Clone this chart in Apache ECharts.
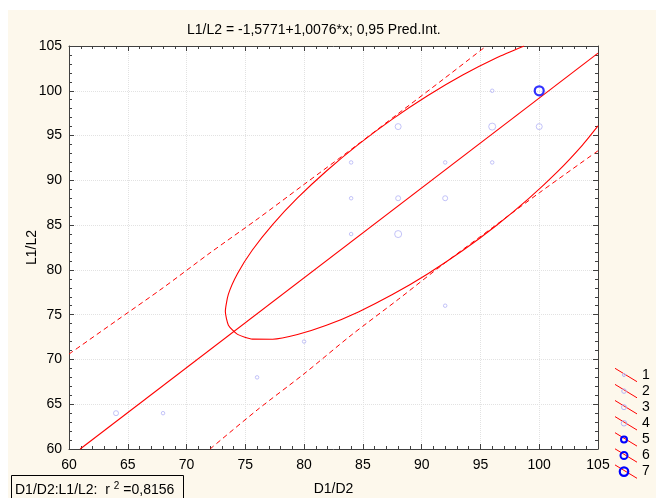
<!DOCTYPE html>
<html><head><meta charset="utf-8">
<script src="https://cdn.jsdelivr.net/npm/echarts@6/dist/echarts.min.js"></script>
<style>
html,body{margin:0;padding:0;background:#fff;}
#bg{position:absolute;left:8px;top:10px;width:648px;height:488px;background:#fdf8ec;}
#chart{position:absolute;left:0;top:0;width:656px;height:498px;}
</style></head><body>
<div id="bg"></div><div id="chart"></div>
<script>
// ---- data ----
const titleText = 'L1/L2 = -1,5771+1,0076*x; 0,95 Pred.Int.';
const xName = 'D1/D2';
const yName = 'L1/L2';
const xTicks = [60, 65, 70, 75, 80, 85, 90, 95, 100, 105];
const yTicks = [60, 65, 70, 75, 80, 85, 90, 95, 100, 105];
const groupNames = ['1', '2', '3', '4', '5', '6', '7'];
const group1 = [[68,64],[76,68],[80,72],[84,92],[84,88],[84,84],[92,92],[92,76],[96,100],[96,92]];
const group2 = [[64,64],[88,88],[92,88]];
const group3 = [[88,96],[100,96]];
const group4 = [[96,96],[88,84]];
const group5 = [];
const group6 = [];
const group7 = [[100,100]];
const regressionLine = [[60.95,60],[105,104.2]];
const predUpper = [[60,70.6],[64,74.3],[68,78.0],[72,81.9],[76,85.65],[80,89.55],[84,93.45],[88,97.45],[92,101.45],[95.5,105]];
const predLower = [[72,60],[76,64.35],[80,68.4],[84,72.7],[88,76.7],[92,80.8],[96,84.7],[100,88.6],[105,93.3]];
const ellipseArc = [[98.71,105.0],[96.38,103.69],[93.49,101.76],[90.5,99.45],[87.51,96.84],[84.62,94.01],
  [81.9,91.04],[79.44,88.03],[77.32,85.06],[75.6,82.22],[74.34,79.6],[73.56,77.29],[73.3,75.35],[73.56,73.83],
  [74.34,72.8],[75.6,72.27],[77.32,72.26],[79.44,72.78],[81.9,73.81],[84.62,75.31],[87.51,77.24],[90.5,79.55],
  [93.49,82.16],[96.38,84.99],[99.1,87.96],[101.56,90.97],[103.68,93.94],[105.0,96.08]];
const r2Label = 'D1/D2:L1/L2:  r ';
const r2Sup = '2';
const r2Value = ' =0,8156';

// ---- styling / building ----
const FONT = 'Liberation Sans, Arial, sans-serif';
const groups = [group1, group2, group3, group4, group5, group6, group7];
const light = '#b4b4f6', blue = '#0000ff';
const markerStyle = [
  {size:3.5, color:light, bw:1},
  {size:5, color:light, bw:1},
  {size:6, color:light, bw:1},
  {size:7, color:light, bw:1},
  {size:7, color:blue, bw:2},
  {size:8, color:blue, bw:2},
  {size:9, color:blue, bw:2.2}
];
const legendSize = [3, 4.5, 5, 5.5, 6, 7, 8.5];
const axisColor = '#404040';
const gridColor = '#e2e2e2';

function makeXAxis(pos, main) {
  return {
    type:'value', position:pos, min:xTicks[0], max:xTicks[xTicks.length-1], interval:xTicks[1]-xTicks[0],
    name: main ? xName : '', nameLocation:'middle', nameGap:33, nameMoveOverlap:false,
    nameTextStyle:{fontSize:14, color:'#000', fontFamily:FONT},
    axisLine:{show:true, onZero:false, lineStyle:{color:axisColor, width:1}},
    axisTick:{show:true, inside:true, length:5, lineStyle:{color:axisColor}},
    minorTick:{show:true, splitNumber:5, length:3, lineStyle:{color:axisColor}},
    splitLine:{show:main, lineStyle:{color:gridColor, type:'dotted', width:1}},
    axisLabel:{show:main, fontSize:14, color:'#000', margin:9, fontFamily:FONT, showMinLabel:true, showMaxLabel:true}
  };
}
function makeYAxis(pos, main) {
  return {
    type:'value', position:pos, min:yTicks[0], max:yTicks[yTicks.length-1], interval:yTicks[1]-yTicks[0],
    name: main ? yName : '', nameLocation:'middle', nameGap:30, nameRotate:90, nameMoveOverlap:false,
    nameTextStyle:{fontSize:14, color:'#000', fontFamily:FONT},
    axisLine:{show:true, onZero:false, lineStyle:{color:axisColor, width:1}},
    axisTick:{show:true, inside:true, length:5, lineStyle:{color:axisColor}},
    minorTick:{show:true, splitNumber:5, length:3, lineStyle:{color:axisColor}},
    splitLine:{show:main, lineStyle:{color:gridColor, type:'dotted', width:1}},
    axisLabel:{show:main, fontSize:14, color:'#000', margin:7, fontFamily:FONT, showMinLabel:true, showMaxLabel:true}
  };
}

const series = [];
const red = '#ff0000';
series.push({type:'line', name:'pred-upper', data:predUpper, showSymbol:false, symbol:'none', smooth:0.3, silent:true, z:2,
  lineStyle:{color:red, width:1, type:[5,3.5]}});
series.push({type:'line', name:'pred-lower', data:predLower, showSymbol:false, symbol:'none', smooth:0.3, silent:true, z:2,
  lineStyle:{color:red, width:1, type:[5,3.5]}});
series.push({type:'line', name:'ellipse', data:ellipseArc, showSymbol:false, symbol:'none', smooth:0.2, silent:true, z:2,
  lineStyle:{color:red, width:1.1}});
series.push({type:'line', name:'regression', data:regressionLine, showSymbol:false, symbol:'none', silent:true, z:2,
  lineStyle:{color:red, width:1.1}});
groupNames.forEach((n, i) => {
  const m = markerStyle[i];
  series.push({type:'scatter', name:n, data:groups[i], symbol:'circle', symbolSize:m.size, silent:true, z:3,
    itemStyle:{color:'rgba(0,0,0,0)', borderColor:m.color, borderWidth:m.bw}});
});

// legend drawn as graphic elements (red line sample + marker + label)
const graphics = [];
groupNames.forEach((n, i) => {
  const yc = 375 + i * 16.1;
  const m = markerStyle[i];
  graphics.push({type:'line', z:0, silent:true, shape:{x1:615, y1:yc-6.7, x2:637, y2:yc+6.7}, style:{stroke:red, lineWidth:1}});
  graphics.push({type:'circle', z:1, silent:true, shape:{cx:624, cy:yc, r:legendSize[i]/2}, style:{fill:'none', stroke:m.color, lineWidth:m.bw}});
  graphics.push({type:'text', z:1, silent:true, x:642, y:yc, style:{text:n, fontSize:14, fontFamily:FONT, fill:'#000', verticalAlign:'middle', align:'left'}});
});
graphics.push({type:'rect', z:0, silent:true, shape:{x:11.5, y:475.5, width:172, height:30}, style:{fill:'none', stroke:'#000', lineWidth:1}});
graphics.push({type:'text', z:1, silent:true, x:15, y:490, style:{
  text:'{a|' + r2Label + '}{b|' + r2Sup + '}{a|' + r2Value + '}',
  verticalAlign:'middle', fill:'#000',
  rich:{a:{fontSize:14, lineHeight:18, fontFamily:FONT, fill:'#000'}, b:{fontSize:10, lineHeight:10, verticalAlign:'top', fontFamily:FONT, fill:'#000'}}
}});

const option = {
  animation:false,
  backgroundColor:'transparent',
  title:{text:titleText, left:187, top:23, padding:0, textStyle:{fontSize:14, fontWeight:'normal', color:'#000', fontFamily:FONT}},
  grid:{left:69, top:46, width:529, height:403, show:true, backgroundColor:'#ffffff', borderWidth:0, containLabel:false, outerBoundsMode:'none'},
  xAxis:[makeXAxis('bottom', true), makeXAxis('top', false)],
  yAxis:[makeYAxis('left', true), makeYAxis('right', false)],
  graphic:graphics,
  series:series
};
const chart = echarts.init(document.getElementById('chart'), null, {renderer:'canvas'});
chart.setOption(option);
</script></body></html>
